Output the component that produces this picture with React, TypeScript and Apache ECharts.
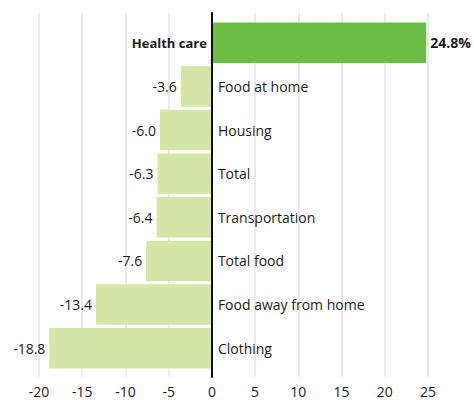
import React, { useEffect, useRef } from "react";
import * as echarts from "echarts";

const categories = [
  "Health care",
  "Food at home",
  "Housing",
  "Total",
  "Transportation",
  "Total food",
  "Food away from home",
  "Clothing",
];
const values = [24.8, -3.6, -6.0, -6.3, -6.4, -7.6, -13.4, -18.8];
const xTicks = { min: -20, max: 25, interval: 5 };

const FONT = "'Open Sans', sans-serif";
const TEXT = "#1a1a1a";
const FS = 14;

export default function App() {
  const ref = useRef<HTMLDivElement>(null);
  useEffect(() => {
    if (!ref.current) return;
    const chart = echarts.init(ref.current, null, { renderer: "svg" });
    const gridLeft = 39;
    const gridRight = 46;
    const barData = values.map((v) => ({
      value: v,
      itemStyle: { color: v > 0 ? "#6dbe45" : "#d5e6a6" },
      label: {
        show: true,
        position: v > 0 ? "right" : "left",
        distance: 4,
        fontFamily: FONT,
        fontSize: FS,
        color: TEXT,
        fontWeight: v > 0 ? "bold" : "normal",
        formatter: v > 0 ? `${v.toFixed(1)}%` : v.toFixed(1),
      },
    }));
    const nameData = values.map((v, i) => ({
      value: v,
      itemStyle: { color: "rgba(0,0,0,0)" },
      label: {
        show: true,
        position: v > 0 ? "left" : "right",
        distance: v > 0 ? 5 : 6,
        fontFamily: FONT,
        fontSize: v > 0 ? 13 : FS,
        color: TEXT,
        fontWeight: v > 0 ? "bold" : "normal",
        formatter: categories[i],
      },
    }));
    chart.setOption({
      animation: false,
      grid: [
        { left: gridLeft, right: gridRight, top: 13, bottom: 23 },
        { left: gridLeft, right: gridRight, top: 21, bottom: 30 },
      ],
      xAxis: [
        {
          gridIndex: 0,
          type: "value",
          min: xTicks.min,
          max: xTicks.max,
          interval: xTicks.interval,
          axisLine: { show: false },
          axisTick: { show: false },
          splitLine: { show: true, lineStyle: { color: "#e3e3e3", width: 1.5 } },
          axisLabel: {
            fontFamily: FONT,
            fontSize: FS,
            color: TEXT,
            margin: 7,
          },
        },
        {
          gridIndex: 1,
          type: "value",
          min: xTicks.min,
          max: xTicks.max,
          interval: xTicks.interval,
          show: false,
        },
      ],
      yAxis: [
        {
          gridIndex: 0,
          type: "value",
          min: 0,
          max: 1,
          z: 10,
          axisLine: { show: true, onZero: true, lineStyle: { color: "#111", width: 2 } },
          axisTick: { show: false },
          axisLabel: { show: false },
          splitLine: { show: false },
        },
        {
          gridIndex: 1,
          type: "category",
          data: categories,
          inverse: true,
          show: false,
        },
      ],
      series: [
        {
          type: "bar",
          xAxisIndex: 1,
          yAxisIndex: 1,
          data: barData,
          barCategoryGap: "7%",
          barGap: "-100%",
          z: 2,
        },
        {
          type: "bar",
          xAxisIndex: 1,
          yAxisIndex: 1,
          data: nameData,
          barCategoryGap: "7%",
          barGap: "-100%",
          z: 3,
          silent: true,
        },
      ],
    });
    return () => chart.dispose();
  }, []);
  return (
    <div
      ref={ref}
      style={{ position: "fixed", left: 0, top: 0, width: 474, height: 400, background: "#fff" }}
    />
  );
}
